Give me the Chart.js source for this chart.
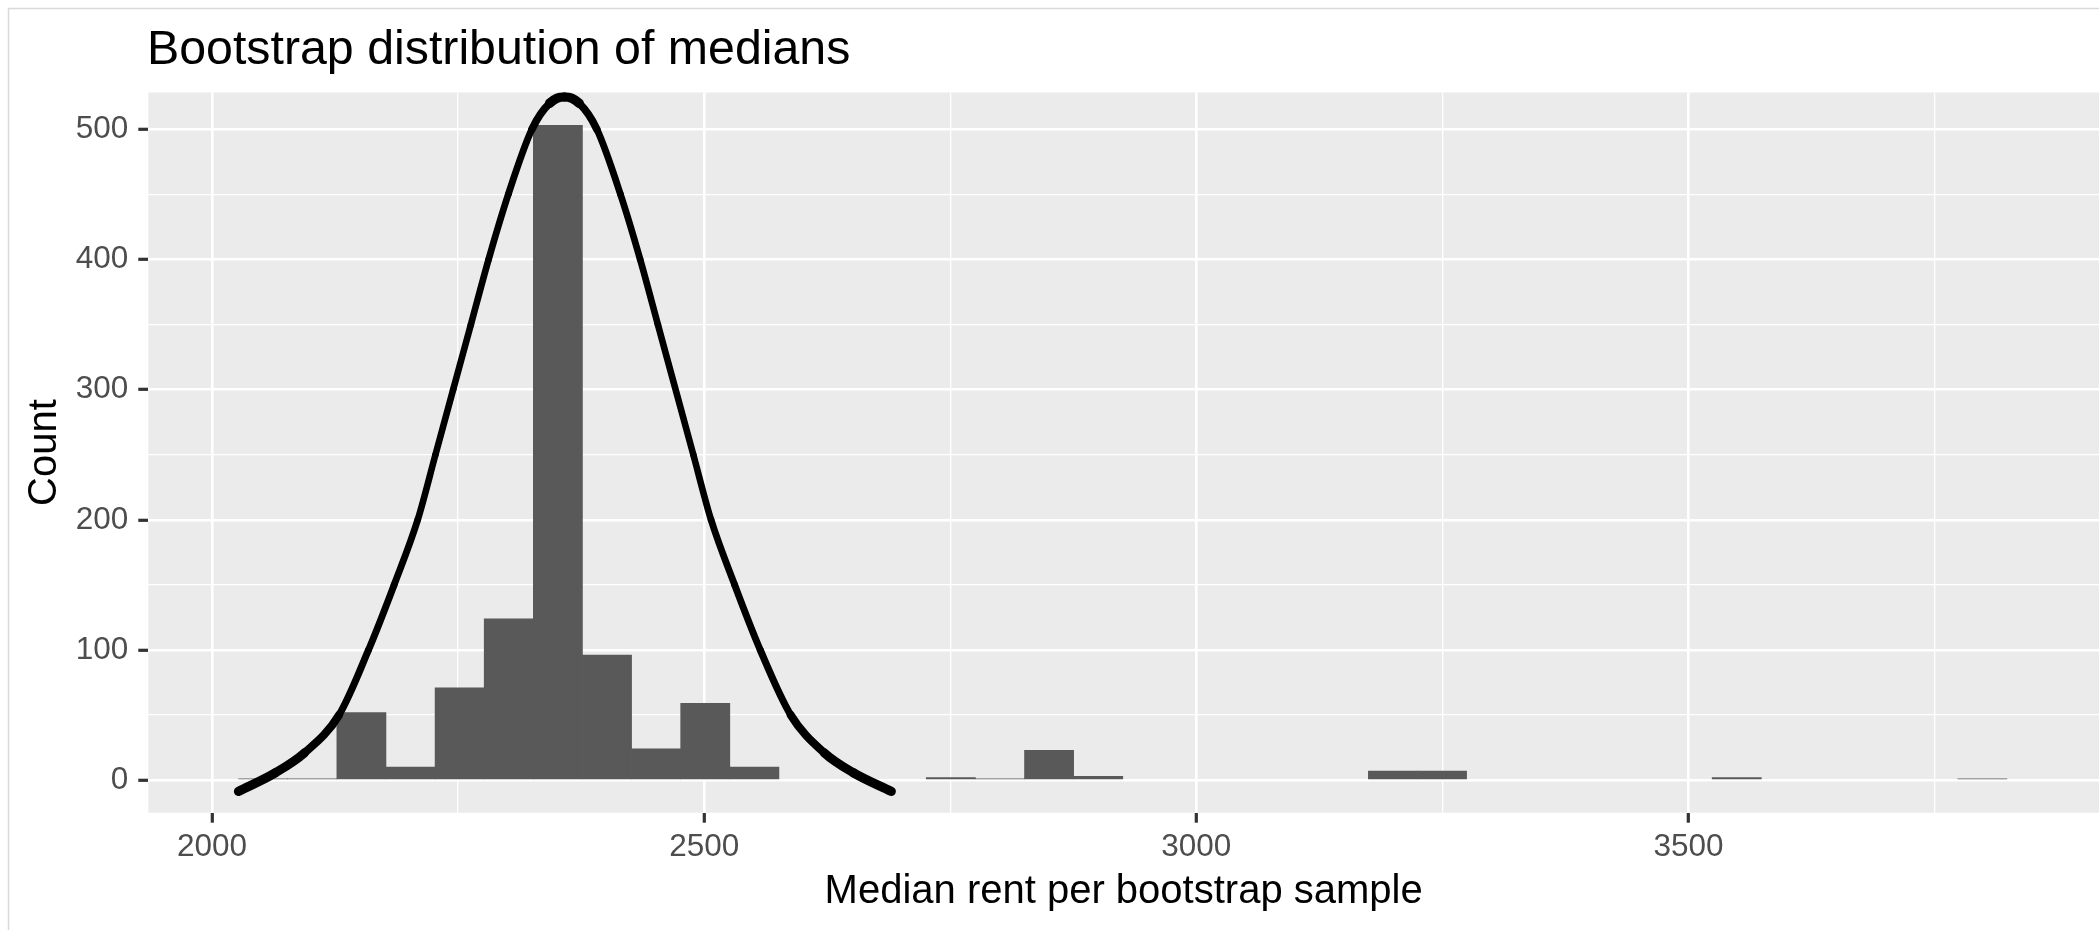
<!DOCTYPE html>
<html>
<head>
<meta charset="utf-8">
<title>Bootstrap distribution of medians</title>
<script src="https://cdn.jsdelivr.net/npm/chart.js@4.4.1/dist/chart.umd.min.js"></script>
<style>
  html, body { margin: 0; padding: 0; background: #fff; overflow: hidden; }
  canvas { display: block; }
</style>
</head>
<body>
<canvas id="hist" width="2099" height="930" style="width:2099px;height:930px"></canvas>
<script>
// histogram bins (midpoints, binwidth ~50) and counts
const binMids = [2052.0, 2101.9, 2151.8, 2201.7, 2251.6, 2301.5, 2351.4, 2401.3, 2451.2, 2501.1,
                 2551.0, 2600.9, 2650.8, 2700.7, 2750.6, 2800.5, 2850.4, 2900.3, 2950.2, 3000.1,
                 3050.0, 3099.9, 3149.8, 3199.7, 3249.6, 3299.5, 3349.4, 3399.3, 3449.2, 3499.1,
                 3549.0, 3598.9, 3648.8, 3698.7, 3748.6, 3798.5];
const binCounts = [1, 1, 52, 10, 71, 124, 503, 96, 24, 59,
                   10, 0, 0, 0, 2, 1, 23, 3, 0, 0,
                   0, 0, 0, 7, 7, 0, 0, 0, 0, 0,
                   2, 0, 0, 0, 0, 1];

// normal curve overlay
const curveX = [2027, 2064, 2094, 2129, 2159, 2185, 2209, 2227, 2245, 2263, 2281, 2301, 2325, 2343,
                2358, 2373, 2391, 2415, 2435, 2453, 2471, 2489, 2507, 2531, 2557, 2588, 2622, 2652, 2690];
const curveY = [-8.6, 5.5, 21, 50, 100, 150, 200, 250, 300, 350, 400, 450, 500, 520,
                525, 520, 500, 450, 400, 350, 300, 250, 200, 150, 100, 50, 21, 5.5, -8.6];

const xTicks = [2000, 2250, 2500, 2750, 3000, 3250, 3500, 3750];
const yTicks = [0, 50, 100, 150, 200, 250, 300, 350, 400, 450, 500];

const titleText = 'Bootstrap distribution of medians';
const xTitle = 'Median rent per bootstrap sample';
const yTitle = 'Count';

const FONT = "'Liberation Sans', Arial, Helvetica, sans-serif";

// ggplot-like frame, grey panel and the text labels
const decor = {
    id: 'decor',
    beforeDraw(chart) {
        const {ctx, chartArea: a} = chart;
        ctx.save();
        ctx.fillStyle = '#ffffff';
        ctx.fillRect(0, 0, chart.width, chart.height);
        ctx.strokeStyle = '#d9d9d9';
        ctx.lineWidth = 1.5;
        ctx.beginPath();
        ctx.moveTo(8.5, chart.height);
        ctx.lineTo(8.5, 8.5);
        ctx.lineTo(chart.width, 8.5);
        ctx.stroke();
        ctx.fillStyle = '#ebebeb';
        ctx.fillRect(a.left, a.top, a.right - a.left, a.bottom - a.top);
        ctx.restore();
    },
    afterDraw(chart) {
        const {ctx, chartArea: a} = chart;
        ctx.save();
        ctx.fillStyle = '#000000';
        ctx.textBaseline = 'alphabetic';

        ctx.font = '48.3px ' + FONT;
        ctx.textAlign = 'left';
        ctx.fillText(titleText, 147, 63.5);

        ctx.font = '40px ' + FONT;
        ctx.textAlign = 'center';
        ctx.fillText(xTitle, (a.left + a.right) / 2, 903);

        ctx.translate(56, (a.top + a.bottom) / 2);
        ctx.rotate(-Math.PI / 2);
        ctx.fillText(yTitle, 0, 0);
        ctx.restore();
    }
};

// the curve is drawn thicker where it runs flat, as in the picture
function curveWidth(c) {
    const dx = c.p1.x - c.p0.x, dy = c.p1.y - c.p0.y;
    const len = Math.sqrt(dx * dx + dy * dy) || 1;
    const s = Math.abs(dy) / len, k = Math.abs(dx) / len;
    return Math.sqrt(Math.pow(6.3 * s, 2) + Math.pow(10 * k, 2));
}

const ctx = document.getElementById('hist').getContext('2d');
const config = {
    type: 'bar',
    data: {
        datasets: [{
            type: 'line',
            label: 'Normal curve',
            data: curveX.map((x, i) => ({x: x, y: curveY[i]})),
            borderColor: '#000000',
            borderWidth: 6,
            borderCapStyle: 'round',
            borderJoinStyle: 'round',
            cubicInterpolationMode: 'monotone',
            pointRadius: 0,
            fill: false,
            order: 0,
            segment: {
                borderWidth: curveWidth
            }
        },
        {
            type: 'bar',
            label: 'Count',
            data: binMids.map((x, i) => ({x: x, y: binCounts[i]})),
            // empty bins leave no trace on the zero line
            backgroundColor: (c) => (c.raw && c.raw.y === 0) ? 'rgba(0,0,0,0)' : '#595959',
            borderWidth: 0,
            barPercentage: 1.0,
            categoryPercentage: 1.0,
            order: 1
        }]
    },
    options: {
        responsive: false,
        animation: false,
        devicePixelRatio: 1,
        layout: {
            padding: {top: 92.5, left: 0, right: 0, bottom: 0}
        },
        plugins: {
            legend: {display: false},
            tooltip: {enabled: false},
            title: {display: false}
        },
        scales: {
            x: {
                type: 'linear',
                min: 1935.3,
                max: 3917,
                offset: false,
                afterBuildTicks: (scale) => {
                    scale.ticks = xTicks.map(v => ({value: v}));
                },
                afterFit: (scale) => {
                    scale.height = 117.3;
                },
                border: {display: false},
                grid: {
                    offset: false,
                    color: '#ffffff',
                    lineWidth: (c) => (c.tick && c.tick.value % 500 === 0) ? 2.6 : 1.3,
                    tickColor: (c) => (c.tick && c.tick.value % 500 === 0) ? '#333333' : 'rgba(0,0,0,0)',
                    tickWidth: 3.2,
                    tickLength: 10
                },
                ticks: {
                    autoSkip: false,
                    maxRotation: 0,
                    padding: 6,
                    color: '#4d4d4d',
                    font: {family: FONT, size: 31.5},
                    callback: (v) => v % 500 === 0 ? String(v) : ''
                }
            },
            y: {
                type: 'linear',
                min: -25,
                max: 528.3,
                afterBuildTicks: (scale) => {
                    scale.ticks = yTicks.map(v => ({value: v}));
                },
                afterFit: (scale) => {
                    scale.width = 148.3;
                },
                border: {display: false},
                grid: {
                    color: '#ffffff',
                    lineWidth: (c) => (c.tick && c.tick.value % 100 === 0) ? 2.6 : 1.3,
                    tickColor: (c) => (c.tick && c.tick.value % 100 === 0) ? '#333333' : 'rgba(0,0,0,0)',
                    tickWidth: 3.2,
                    tickLength: 10
                },
                ticks: {
                    autoSkip: false,
                    padding: 10,
                    color: '#4d4d4d',
                    font: {family: FONT, size: 31.5},
                    callback: (v) => v % 100 === 0 ? String(v) : ''
                }
            }
        }
    },
    plugins: [decor]
};
const hist = new Chart(ctx, config);
</script>
</body>
</html>
